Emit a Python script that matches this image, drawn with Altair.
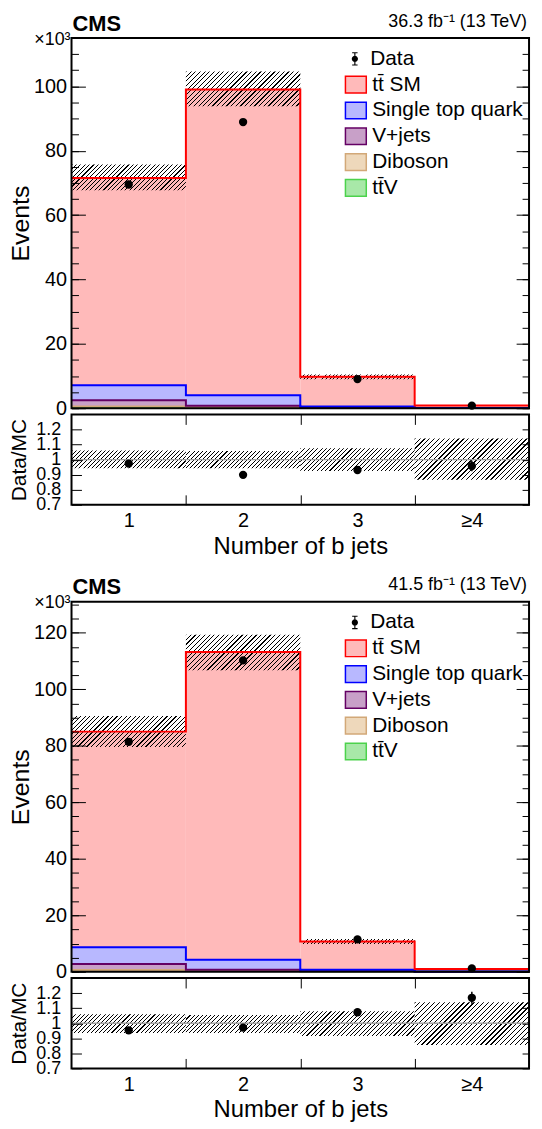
import altair as alt
import pandas as pd

FONT = "Liberation Sans"
INK = "#000000"
CLEAR = "rgba(0,0,0,0)"

# ---------------- binning ----------------
bin_centers = [1, 2, 3, 4]
bin_lo = [0.5, 1.5, 2.5, 3.5]
bin_hi = [1.5, 2.5, 3.5, 4.5]
bin_labels = ["1", "2", "3", "\u22654"]
bin_edges = [1.5, 2.5, 3.5]

# legend order (top of stack first)
processes = ["tt\u0304 SM", "Single top quark", "V+jets", "Diboson", "tt\u0304V"]
fill_colors = ["#ffbaba", "#b8b8ff", "#c8a0c8", "#eed8bb", "#a8e8a8"]
stroke_colors = ["#ff0000", "#0000ff", "#640064", "#d2a878", "#4cd24c"]

# ---------------- 2016 (36.3 fb-1), values in thousands ----------------
lumi_2016 = "36.3 fb\u207b\u00b9 (13 TeV)"
tt_2016 = [64.4, 95.0, 9.23, 0.74]
st_2016 = [4.6, 3.2, 0.30, 0.05]
vjets_2016 = [1.95, 0.40, 0.05, 0.01]
vv_2016 = [0.25, 0.10, 0.02, 0.005]
ttv_2016 = [0.30, 0.30, 0.15, 0.035]
data_2016 = [69.5, 88.9, 9.05, 0.80]
data_err_2016 = [0.26, 0.30, 0.10, 0.03]
band_lo_2016 = [67.7, 93.8, 9.0, 0.73]
band_hi_2016 = [75.7, 104.6, 10.5, 0.96]
ratio_2016 = [0.974, 0.899, 0.931, 0.957]
ratio_err_2016 = [0.004, 0.003, 0.011, 0.035]
ratio_band_lo_2016 = [0.942, 0.942, 0.925, 0.867]
ratio_band_hi_2016 = [1.060, 1.058, 1.075, 1.140]
ymax_2016 = 115
yticks_2016 = [0, 20, 40, 60, 80, 100]
yminor_2016 = list(range(0, 115, 5))

# ---------------- 2017 (41.5 fb-1) ----------------
lumi_2017 = "41.5 fb\u207b\u00b9 (13 TeV)"
tt_2017 = [76.3, 108.9, 10.05, 0.915]
st_2017 = [5.9, 3.6, 0.45, 0.06]
vjets_2017 = [2.15, 0.25, 0.05, 0.01]
vv_2017 = [0.30, 0.10, 0.02, 0.005]
ttv_2017 = [0.35, 0.35, 0.18, 0.04]
data_2017 = [81.4, 110.2, 11.5, 1.20]
data_err_2017 = [0.29, 0.33, 0.11, 0.035]
band_lo_2017 = [79.6, 106.7, 9.85, 0.88]
band_hi_2017 = [90.5, 119.3, 11.6, 1.17]
ratio_2017 = [0.953, 0.971, 1.073, 1.169]
ratio_err_2017 = [0.004, 0.003, 0.011, 0.04]
ratio_band_lo_2017 = [0.935, 0.935, 0.915, 0.855]
ratio_band_hi_2017 = [1.060, 1.055, 1.080, 1.140]
ymax_2017 = 131
yticks_2017 = [0, 20, 40, 60, 80, 100, 120]
yminor_2017 = list(range(0, 131, 5))

ratio_domain = [0.7, 1.3]
ratio_ticks = [0.7, 0.8, 0.9, 1.0, 1.1, 1.2]

cms_label = "CMS"
exp_label = "\u00d710\u00b3"
x_title = "Number of b jets"

# ---------------- sizes / styles ----------------
W = 461
H_MAIN = 373
H_RATIO = 91
GAP = 6.3
BLOCK_GAP = 84.4
# data legend marker: dot with vertical error bar and caps (filled shapes, same winding)
DATA_SYMBOL = ("M-0.055,-0.6H0.055V0.6H-0.055Z"
               "M-0.26,-0.64H0.26V-0.54H-0.26Z"
               "M-0.26,0.54H0.26V0.64H-0.26Z"
               "M-0.3,0A0.3,0.3,0,1,1,0.3,0A0.3,0.3,0,1,1,-0.3,0Z")


def hatch(w, h, n=32, line=2.0 / 256):
    """45-degree '////' hatching as a striped linear gradient (n stripes across the box)."""
    total = w + h
    k = total / (w * w + h * h)
    stops = []
    for i in range(n):
        a = i / n
        b = a + line
        c = (i + 1) / n
        for off, col in ((a, INK), (b, INK), (b, CLEAR), (c, CLEAR)):
            stops.append(alt.GradientStop(offset=round(min(off, 1.0), 6), color=col))
    return alt.LinearGradient(gradient="linear", stops=stops, x1=0, y1=0,
                              x2=round(w * k, 6), y2=round(h * k, 6))


def ax(**kw):
    base = dict(grid=False, domain=False, labels=False, ticks=False, title=None,
                minExtent=0, labelOverlap=False)
    base.update(kw)
    return alt.Axis(**base)


def tick_ax(orient, values, size):
    return ax(orient=orient, values=values, ticks=True, tickSize=size, offset=-size,
              tickColor="black", tickWidth=1, zindex=1)


def text_layer(txt, x, y, align, size, weight="normal", baseline="top"):
    return alt.Chart(pd.DataFrame({"t": [txt]})).mark_text(
        align=align, baseline=baseline, font=FONT, fontSize=size,
        fontWeight=weight, color="black"
    ).encode(x=alt.value(x), y=alt.value(y), text="t:N")


def frame_layer():
    return alt.Chart(pd.DataFrame({"f": [0]})).mark_rect(
        fill="transparent", stroke="black", strokeWidth=2
    ).encode(x=alt.value(0), x2=alt.value("width"), y=alt.value(0), y2=alt.value("height"))


XS = alt.Scale(domain=[0.5, 4.5], nice=False, zero=False)


def main_panel(yields, data, derr, blo, bhi, ymax, yt, ym, lumi):
    ys = alt.Scale(domain=[0, ymax], nice=False, zero=False)
    stack_order = processes[::-1]
    rects, lines = [], []
    base = [0.0] * 4
    for p in stack_order:
        top = [base[i] + yields[p][i] for i in range(4)]
        for i in range(4):
            rects.append(dict(process=p, x=bin_lo[i], x2=bin_hi[i], y=base[i], y2=top[i]))
            lines.append(dict(process=p, x=bin_lo[i], y=top[i], o=i))
        lines.append(dict(process=p, x=bin_hi[3], y=top[3], o=4))
        base = top

    proc_legend = alt.Legend(title=None, orient="none", legendX=275, legendY=35.5,
                             symbolType="M-1,-0.8H1V0.8H-1Z", symbolSize=441,
                             symbolStrokeWidth=1.5, symbolOpacity=1,
                             labelFontSize=21, labelFont=FONT, labelColor="black",
                             labelOffset=5, rowPadding=3.0, padding=0)
    data_legend = alt.Legend(title=None, orient="none", legendX=275, legendY=10.5,
                             symbolSize=441, symbolStrokeWidth=0, symbolOpacity=1,
                             symbolFillColor="black", symbolStrokeColor="black",
                             labelFontSize=21, labelFont=FONT, labelColor="black",
                             labelOffset=5, padding=0)

    fills = alt.Chart(pd.DataFrame(rects)).mark_rect().encode(
        x=alt.X("x:Q", scale=XS, axis=None), x2="x2:Q",
        y=alt.Y("y:Q", scale=ys, axis=ax(orient="left", labels=True, values=yt,
                                          labelFontSize=20, labelPadding=5,
                                          minExtent=38, maxExtent=38,
                                          title="Events", titleFontSize=25,
                                          titlePadding=0)),
        y2="y2:Q",
        fill=alt.Fill("process:N", scale=alt.Scale(domain=processes, range=fill_colors),
                      legend=proc_legend),
        stroke=alt.Stroke("process:N", scale=alt.Scale(domain=processes, range=stroke_colors),
                          legend=proc_legend),
        strokeWidth=alt.value(0),
    )

    tick_axes = [tick_ax("left", yt, 14), tick_ax("left", ym, 7),
                 tick_ax("right", yt, 13), tick_ax("right", ym, 7)]
    bands = []
    for i in range(4):
        hpx = (bhi[i] - blo[i]) * H_MAIN / ymax
        dfb = pd.DataFrame({"x": [bin_lo[i]], "x2": [bin_hi[i]], "y": [blo[i]], "y2": [bhi[i]]})
        bands.append(alt.Chart(dfb).mark_rect(fill=hatch(W / 4, hpx), strokeWidth=0).encode(
            x=alt.X("x:Q", scale=XS, axis=None), x2="x2:Q",
            y=alt.Y("y:Q", scale=ys, axis=tick_axes[i]), y2="y2:Q"))

    steps = alt.Chart(pd.DataFrame(lines)).mark_line(interpolate="step-after", strokeWidth=2).encode(
        x=alt.X("x:Q", scale=XS, axis=None),
        y=alt.Y("y:Q", scale=ys, axis=None),
        stroke=alt.Stroke("process:N", scale=alt.Scale(domain=processes, range=stroke_colors),
                          legend=None),
        order="o:Q",
    )

    dd = pd.DataFrame({"x": bin_centers, "v": data,
                       "lo": [d - e for d, e in zip(data, derr)],
                       "hi": [d + e for d, e in zip(data, derr)]})
    errs = alt.Chart(dd).mark_rule(color="black", strokeWidth=1.5).encode(
        x=alt.X("x:Q", scale=XS, axis=None),
        y=alt.Y("lo:Q", scale=ys, axis=None), y2="hi:Q")
    pts = alt.Chart(dd).mark_circle(size=70, color="black", opacity=1).encode(
        x=alt.X("x:Q", scale=XS, axis=None),
        y=alt.Y("v:Q", scale=ys, axis=None))

    dleg = alt.Chart(pd.DataFrame({"lab": ["Data"]})).mark_point(
        filled=True, color="black", opacity=0).encode(
        x=alt.value(0), y=alt.value(0),
        shape=alt.Shape("lab:N", scale=alt.Scale(domain=["Data"], range=[DATA_SYMBOL]),
                        legend=data_legend))

    texts = [
        text_layer(cms_label, 1, -24.3, "left", 22, "bold"),
        text_layer(lumi, W - 2, -25.3, "right", 18),
        text_layer(exp_label, -1, 6.7, "right", 18, baseline="alphabetic"),
    ]

    return alt.layer(fills, *bands, steps, errs, pts, dleg, *texts, frame_layer()).properties(
        width=W, height=H_MAIN).resolve_axis(x="independent", y="independent")


def ratio_panel(ratio, rerr, rblo, rbhi):
    ys = alt.Scale(domain=ratio_domain, nice=False, zero=False)
    label_expr = "[" + ",".join("'" + l + "'" for l in bin_labels) + "][round(datum.value) - 1]"
    y_axes = [
        ax(orient="left", labels=True, values=ratio_ticks, format="~g", labelFontSize=18,
           labelPadding=11, minExtent=38, maxExtent=38, title="Data/MC",
           titleFontSize=21, titlePadding=4),
        tick_ax("left", ratio_ticks, 10),
        tick_ax("right", ratio_ticks, 7),
        None,
    ]
    x_axes = [
        ax(orient="bottom", labels=True, values=bin_centers, labelExpr=label_expr,
           labelFontSize=20, labelPadding=6, title=x_title, titleFontSize=24,
           titlePadding=3.6),
        tick_ax("bottom", bin_edges, 10),
        tick_ax("top", bin_edges, 10),
        None,
    ]
    bands = []
    for i in range(4):
        hpx = (rbhi[i] - rblo[i]) * H_RATIO / (ratio_domain[1] - ratio_domain[0])
        dfb = pd.DataFrame({"x": [bin_lo[i]], "x2": [bin_hi[i]], "y": [rblo[i]], "y2": [rbhi[i]]})
        bands.append(alt.Chart(dfb).mark_rect(fill=hatch(W / 4, hpx), strokeWidth=0).encode(
            x=alt.X("x:Q", scale=XS, axis=x_axes[i]), x2="x2:Q",
            y=alt.Y("y:Q", scale=ys, axis=y_axes[i]), y2="y2:Q"))

    unity = alt.Chart(pd.DataFrame({"one": [1.0]})).mark_rule(color="#a0a0a0", strokeWidth=1.5).encode(
        y=alt.Y("one:Q", scale=ys, axis=None))

    dd = pd.DataFrame({"x": bin_centers, "v": ratio,
                       "lo": [d - e for d, e in zip(ratio, rerr)],
                       "hi": [d + e for d, e in zip(ratio, rerr)]})
    errs = alt.Chart(dd).mark_rule(color="black", strokeWidth=1.5).encode(
        x=alt.X("x:Q", scale=XS, axis=None),
        y=alt.Y("lo:Q", scale=ys, axis=None), y2="hi:Q")
    pts = alt.Chart(dd).mark_circle(size=70, color="black", opacity=1).encode(
        x=alt.X("x:Q", scale=XS, axis=None),
        y=alt.Y("v:Q", scale=ys, axis=None))

    return alt.layer(*bands, unity, errs, pts, frame_layer()).properties(
        width=W, height=H_RATIO).resolve_axis(x="independent", y="independent")


def spacer():
    return alt.Chart(pd.DataFrame({"s": [0]})).mark_point(opacity=0).encode(
        x=alt.value(0), y=alt.value(0)).properties(width=W, height=BLOCK_GAP)


y16 = {processes[0]: tt_2016, processes[1]: st_2016, processes[2]: vjets_2016,
       processes[3]: vv_2016, processes[4]: ttv_2016}
y17 = {processes[0]: tt_2017, processes[1]: st_2017, processes[2]: vjets_2017,
       processes[3]: vv_2017, processes[4]: ttv_2017}

main16 = main_panel(y16, data_2016, data_err_2016, band_lo_2016, band_hi_2016, ymax_2016,
                    yticks_2016, yminor_2016, lumi_2016)
ratio16 = ratio_panel(ratio_2016, ratio_err_2016, ratio_band_lo_2016, ratio_band_hi_2016)
main17 = main_panel(y17, data_2017, data_err_2017, band_lo_2017, band_hi_2017, ymax_2017,
                    yticks_2017, yminor_2017, lumi_2017)
ratio17 = ratio_panel(ratio_2017, ratio_err_2017, ratio_band_lo_2017, ratio_band_hi_2017)

chart = alt.vconcat(main16, ratio16, spacer(), main17, ratio17, spacing=GAP,
                    bounds="flush").resolve_scale(
    fill="independent", stroke="independent", shape="independent"
).properties(
    padding={"left": 0, "top": 0, "right": 0, "bottom": 0}
).configure(font=FONT).configure_view(stroke="transparent").configure_axis(
    labelFont=FONT, titleFont=FONT, labelColor="black", titleColor="black",
    tickColor="black", titleFontWeight="normal"
).configure_legend(labelFont=FONT, labelColor="black")

chart.save("out.html", embed_options={"renderer": "svg", "actions": False})
